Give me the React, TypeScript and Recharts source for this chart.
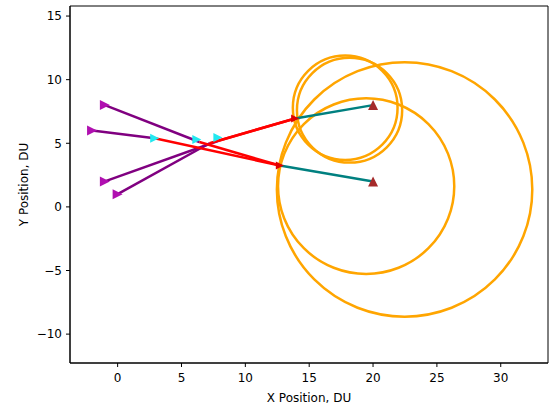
import { ScatterChart, Scatter, XAxis, YAxis, ReferenceArea, Label } from 'recharts';

// axis limits and ticks
const X_MIN = -3.73;
const X_MAX = 33.7;
const Y_MIN = -12.27;
const Y_MAX = 15.79;
const xTicks = [0, 5, 10, 15, 20, 25, 30];
const yTicks = [-10, -5, 0, 5, 10, 15];

// layout
const W = 549;
const H = 411;
const M = { top: 6, right: 1, left: 0, bottom: 0 };
const Y_AXIS_W = 70;
const X_AXIS_H = 48;
const PLOT_W = W - M.left - M.right - Y_AXIS_W;
const PLOT_H = H - M.top - M.bottom - X_AXIS_H;

// missile tracks: start -> handoff (purple), handoff -> intercept (red)
const purpleA = [{ x: -2, y: 6 }, { x: 2.9, y: 5.4 }];
const purpleB = [{ x: -1, y: 8 }, { x: 6.4, y: 5.1 }];
const purpleC = [{ x: -1, y: 2 }, { x: 7.9, y: 5.2 }];
const purpleD = [{ x: 0, y: 1 }, { x: 7.2, y: 5.0 }];

const redA = [{ x: 2.9, y: 5.4 }, { x: 12.7, y: 3.25 }];
const redB = [{ x: 6.4, y: 5.1 }, { x: 12.7, y: 3.25 }];
const redC = [{ x: 7.9, y: 5.2 }, { x: 13.9, y: 6.95 }];
const redD = [{ x: 7.2, y: 5.0 }, { x: 13.9, y: 6.95 }];

// target tracks
const tealUpper = [{ x: 13.9, y: 6.95 }, { x: 20, y: 8 }];
const tealLower = [{ x: 12.7, y: 3.25 }, { x: 20, y: 2 }];

// markers
const launchPoints = [{ x: -1, y: 8 }, { x: -2, y: 6 }, { x: -1, y: 2 }, { x: 0, y: 1 }];
const handoffPoints = [{ x: 2.9, y: 5.4 }, { x: 6.2, y: 5.3 }, { x: 7.85, y: 5.45 }];
const interceptPoints = [{ x: 12.7, y: 3.25 }, { x: 13.9, y: 6.95 }];
const targetPoints = [{ x: 20, y: 8 }, { x: 20, y: 2 }];

// zones: center + radius in DU
const zones = [
  { x: 17.82, y: 7.79, r: 4.1 },
  { x: 18.16, y: 7.6, r: 4.12 },
  { x: 19.46, y: 1.63, r: 6.9 },
  { x: 22.47, y: 1.37, r: 10.0 },
];

const font = 'DejaVu Sans, sans-serif';

const noShape = () => <g />;

const RightTri = (color: string, s: number) => (p: any) => {
  const { cx, cy } = p;
  return <polygon points={`${cx - s},${cy - s} ${cx - s},${cy + s} ${cx + s},${cy}`} fill={color} />;
};

const UpTri = (color: string, s: number) => (p: any) => {
  const { cx, cy } = p;
  return <polygon points={`${cx - s},${cy + s} ${cx + s},${cy + s} ${cx},${cy - s}`} fill={color} />;
};

const Ring = (p: any) => {
  const { cx, cy, payload } = p;
  const rx = (payload.r * PLOT_W) / (X_MAX - X_MIN);
  const ry = (payload.r * PLOT_H) / (Y_MAX - Y_MIN);
  return <ellipse cx={cx} cy={cy} rx={rx} ry={ry} fill="none" stroke="#ffa500" strokeWidth={2.5} />;
};

const lineSeries: [any[], string][] = [
  [purpleA, '#800080'],
  [purpleB, '#800080'],
  [purpleC, '#800080'],
  [purpleD, '#800080'],
  [redA, '#ff0000'],
  [redB, '#ff0000'],
  [redC, '#ff0000'],
  [redD, '#ff0000'],
  [tealUpper, '#008080'],
  [tealLower, '#008080'],
];

export default function App() {
  const tick = { fill: '#000', fontSize: 12, fontFamily: font };
  return (
    <div style={{ position: 'absolute', left: 0, top: 0, background: '#fff' }}>
      <ScatterChart width={W} height={H} margin={M}>
        <XAxis
          type="number"
          dataKey="x"
          domain={[X_MIN, X_MAX]}
          ticks={xTicks}
          allowDataOverflow
          height={X_AXIS_H}
          tick={tick}
          tickSize={4}
          tickMargin={6}
          stroke="#000"
        >
          <Label value="X Position, DU" position="insideBottom" offset={9} style={{ fill: '#000', fontSize: 12, fontFamily: font }} />
        </XAxis>
        <YAxis
          type="number"
          dataKey="y"
          domain={[Y_MIN, Y_MAX]}
          ticks={yTicks}
          allowDataOverflow
          width={Y_AXIS_W}
          tick={tick}
          tickSize={4}
          tickMargin={4}
          stroke="#000"
          tickFormatter={(v: number) => (v < 0 ? `\u2212${-v}` : `${v}`)}
        >
          <Label value="Y Position, DU" angle={-90} position="insideLeft" offset={24} style={{ fill: '#000', fontSize: 12, fontFamily: font, textAnchor: 'middle' }} />
        </YAxis>
        <ReferenceArea x1={X_MIN} x2={X_MAX} y1={Y_MIN} y2={Y_MAX} fill="none" stroke="#000" strokeWidth={1} fillOpacity={0} />
        <Scatter data={zones} shape={Ring} isAnimationActive={false} />
        {lineSeries.map(([d, c], i) => (
          <Scatter key={i} data={d} line={{ stroke: c, strokeWidth: 2.5 }} shape={noShape} isAnimationActive={false} />
        ))}
        <Scatter data={launchPoints} shape={RightTri('#b010b0', 5)} isAnimationActive={false} />
        <Scatter data={handoffPoints} shape={RightTri('#22e8f0', 4.5)} isAnimationActive={false} />
        <Scatter data={interceptPoints} shape={RightTri('#e00000', 4)} isAnimationActive={false} />
        <Scatter data={targetPoints} shape={UpTri('#a52a2a', 5)} isAnimationActive={false} />
      </ScatterChart>
    </div>
  );
}
